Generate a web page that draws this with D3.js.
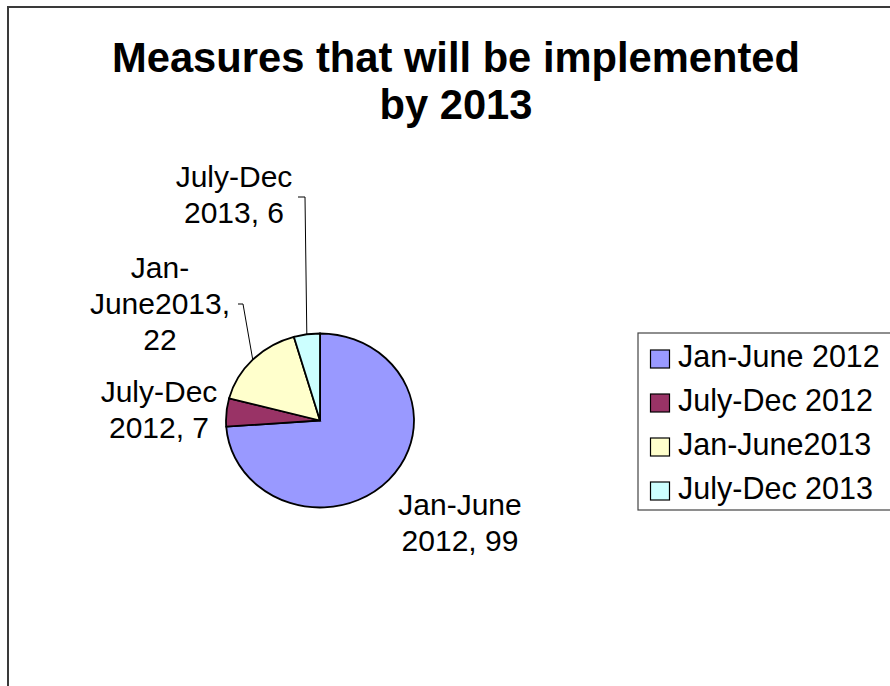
<!DOCTYPE html>
<html>
<head>
<meta charset="utf-8">
<script src="https://cdn.jsdelivr.net/npm/d3@7"></script>
<style>
  body { margin: 0; background: #fff; }
  svg { display: block; font-family: "Liberation Sans", Arial, sans-serif; }
</style>
</head>
<body>
<div id="chart"></div>
<script>
// chart values
var categories = ['Jan-June 2012', 'July-Dec 2012', 'Jan-June2013', 'July-Dec 2013'];
var values = [99, 7, 22, 6];
var colors = ['#9999FF', '#993366', '#FFFFCC', '#CCFFFF'];
var titleLines = ['Measures that will be implemented', 'by 2013'];
// data label text, one array of lines per slice
var labelLines = [
    ['Jan-June', '2012, 99'],
    ['July-Dec', '2012, 7'],
    ['Jan-', 'June2013,', '22'],
    ['July-Dec', '2013, 6']
];

var width = 890;
var height = 686;
var cx = 320, cy = 420.5;
var rx = 94, ry = 87;

var svg = d3.select('#chart').append('svg')
    .attr('width', width)
    .attr('height', height);

// chart area border (runs off the right and bottom edges)
svg.append('rect')
    .attr('x', 8).attr('y', 7)
    .attr('width', width + 20).attr('height', height + 20)
    .attr('fill', '#fff')
    .attr('stroke', '#3a3a3a')
    .attr('stroke-width', 2);

/**
 * title
 */
svg.append('text')
    .attr('x', 456)
    .attr('y', 72)
    .attr('text-anchor', 'middle')
    .style('font-size', '41.7px')
    .style('font-weight', 'bold')
    .selectAll('tspan')
    .data(titleLines)
    .enter().append('tspan')
    .attr('x', 456)
    .attr('dy', function (d, i) { return i === 0 ? 0 : 47; })
    .text(function (d) { return d; });

/**
 * pie
 */
var pie = d3.pie().sort(null).value(function (d) { return d; });
var arcs = pie(values);
var arc = d3.arc().innerRadius(0).outerRadius(rx);

var pieG = svg.append('g')
    .attr('transform', 'translate(' + cx + ',' + cy + ') scale(1,' + (ry / rx) + ')');

pieG.selectAll('path')
    .data(arcs)
    .enter().append('path')
    .attr('d', arc)
    .attr('fill', function (d, i) { return colors[i]; })
    .attr('stroke', '#000')
    .attr('stroke-width', 1.8)
    .attr('vector-effect', 'non-scaling-stroke');

// point on the ellipse edge at a slice's middle angle
function edgePoint(d) {
    var a = (d.startAngle + d.endAngle) / 2;
    return [cx + rx * Math.sin(a), cy - ry * Math.cos(a)];
}

/**
 * data labels: centre x, first baseline, and leader tick (if any)
 */
var labelPos = [
    {x: 460, y: 515, leader: null},
    {x: 159, y: 402, leader: null},
    {x: 160, y: 278, leader: {y: 304, x0: 238, x1: 243}},
    {x: 234, y: 187, leader: {y: 197, x0: 298, x1: 305}}
];
var lineGap = 36;

var labels = svg.append('g').style('font-size', '30px');

arcs.forEach(function (d, i) {
    var p = labelPos[i];
    var t = labels.append('text')
        .attr('text-anchor', 'middle')
        .attr('x', p.x)
        .attr('y', p.y);
    t.selectAll('tspan')
        .data(labelLines[i])
        .enter().append('tspan')
        .attr('x', p.x)
        .attr('dy', function (l, j) { return j === 0 ? 0 : lineGap; })
        .text(function (l) { return l; });

    if (p.leader) {
        var e = edgePoint(d);
        svg.append('path')
            .attr('d', 'M' + p.leader.x0 + ',' + p.leader.y + 'L' + p.leader.x1 + ',' + p.leader.y + 'L' + e[0] + ',' + e[1])
            .attr('fill', 'none')
            .attr('stroke', '#000')
            .attr('stroke-width', 1);
    }
});

/**
 * legend
 */
var legend = svg.append('g');
legend.append('rect')
    .attr('x', 638).attr('y', 333)
    .attr('width', 270).attr('height', 177)
    .attr('fill', '#fff')
    .attr('stroke', '#444')
    .attr('stroke-width', 1.2);

var item = legend.selectAll('.item')
    .data(categories)
    .enter().append('g')
    .attr('class', 'item')
    .attr('transform', function (d, i) { return 'translate(650,' + (367 + i * 44) + ')'; });

item.append('rect')
    .attr('x', 0.5).attr('y', -17)
    .attr('width', 19).attr('height', 18)
    .attr('fill', function (d, i) { return colors[i]; })
    .attr('stroke', '#000')
    .attr('stroke-width', 1.2);

item.append('text')
    .attr('x', 28)
    .attr('y', 0)
    .style('font-size', '30.5px')
    .text(function (d) { return d; });
</script>
</body>
</html>
